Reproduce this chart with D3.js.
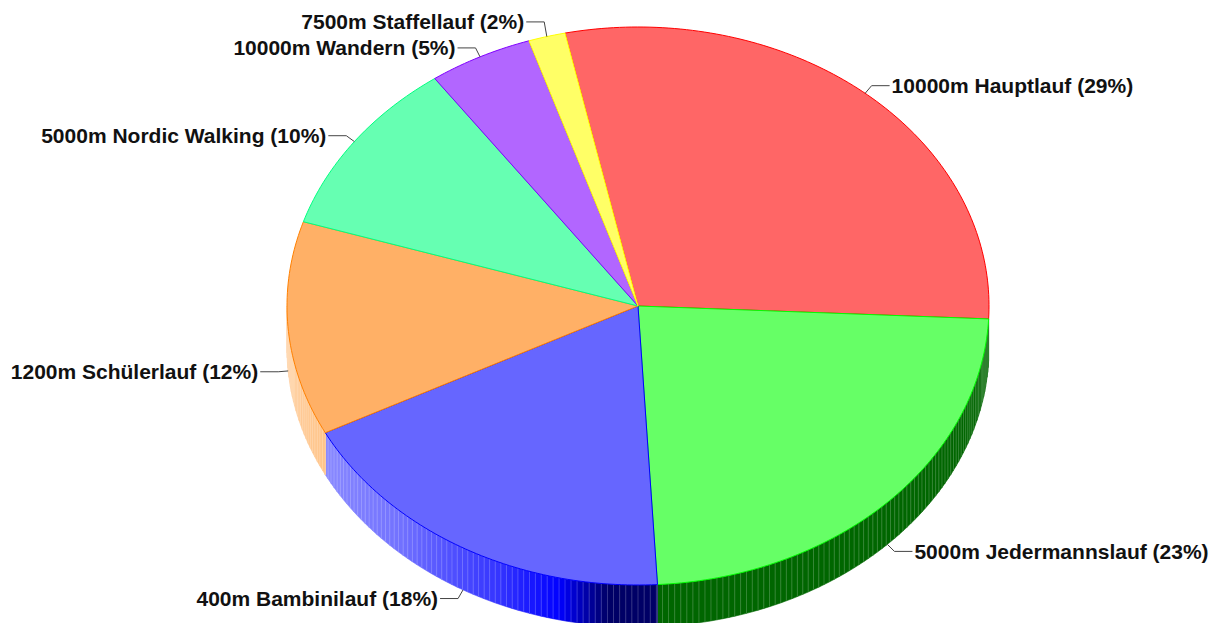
<!DOCTYPE html>
<html>
<head>
<meta charset="utf-8">
<script src="https://cdn.jsdelivr.net/npm/d3@7"></script>
<style>
  body { margin: 0; background: #fff; }
  .label { font-family: "Liberation Sans", Arial, sans-serif; font-weight: bold; font-size: 21px; fill: #111; }
</style>
</head>
<body>
<div id="chart"></div>
<script>
// chart data
const categories = ["10000m Hauptlauf", "5000m Jedermannslauf", "400m Bambinilauf",
  "1200m Schülerlauf", "5000m Nordic Walking", "10000m Wandern", "7500m Staffellauf"];
const values = [29.1, 23.4, 18.4, 12.4, 10.3, 4.8, 1.7];
const topColors = ["#ff6666", "#66ff66", "#6666ff", "#ffb066", "#66ffb2", "#b266ff", "#ffff66"];
const edgeColors = ["#ff0000", "#00ff00", "#0000ff", "#ff8000", "#00ff80", "#8000ff", "#ffff00"];

const width = 1213, height = 623;
const cx = 638, cy = 306, rx = 351, ry = 279, depth = 42;
const startDeg = -12;
const rad = Math.PI / 180;

const data = categories.map((c, i) => ({ name: c, value: values[i], i: i }));
const total = d3.sum(values);

const pie = d3.pie()
  .sort(null)
  .value(d => d.value)
  .startAngle(startDeg * rad)
  .endAngle((startDeg + 360) * rad);
const arcs = pie(data);

// point on the ellipse for angle a (clockwise from top)
function pt(a, dy) {
  return [cx + rx * Math.sin(a), cy - ry * Math.cos(a) + (dy || 0)];
}

// side shading: dark on the right front, lighter towards the left
const whiteMix = d3.scaleLinear()
  .domain([193, 203, 223, 245, 270])
  .range([0, 0.2, 0.45, 0.55, 0.65])
  .clamp(true);

function sideColor(base, deg) {
  const c = d3.rgb(base);
  const mul = k => d3.rgb(c.r * k, c.g * k, c.b * k).formatHex();
  if (deg < 185) return mul(0.4);
  if (deg < 193) return mul(0.4 + 0.6 * (deg - 185) / 8);
  return d3.interpolateRgb(c, "#ffffff")(whiteMix(deg));
}

const svg = d3.select("#chart").append("svg")
  .attr("width", width)
  .attr("height", height);

const line = d3.line();

// sides (front half only), drawn as 1 degree strips
const sides = svg.append("g");
arcs.forEach(a => {
  let s = a.startAngle / rad, e = a.endAngle / rad;
  // normalise into 0..360
  if (s < 0) { s += 360; e += 360; }
  const lo = Math.max(s, 90), hi = Math.min(e, 270);
  if (lo >= hi) return;
  for (let d = lo; d < hi; d = Math.floor(d) + 1) {
    const d2 = Math.min(Math.floor(d) + 1, hi);
    const col = sideColor(edgeColors[a.data.i], (d + d2) / 2);
    const p = [pt(d * rad), pt(d2 * rad), pt(d2 * rad, depth), pt(d * rad, depth)];
    sides.append("path")
      .attr("d", line(p) + "Z")
      .attr("fill", col)
      .attr("stroke", col)
      .attr("stroke-width", 0.6);
    // thin lighter stripe
    sides.append("path")
      .attr("d", line([pt(d * rad), pt(d * rad, depth)]))
      .attr("stroke", d3.interpolateRgb(col, "#ffffff")(0.35))
      .attr("stroke-width", 0.8)
      .attr("opacity", 0.7);
  }
});

// top faces
const tops = svg.append("g");
arcs.forEach(a => {
  const n = Math.max(4, Math.ceil((a.endAngle - a.startAngle) / rad));
  const pts = [[cx, cy]];
  for (let k = 0; k <= n; k++) {
    pts.push(pt(a.startAngle + (a.endAngle - a.startAngle) * k / n));
  }
  tops.append("path")
    .attr("d", line(pts) + "Z")
    .attr("fill", topColors[a.data.i])
    .attr("stroke", edgeColors[a.data.i])
    .attr("stroke-width", 1)
    .attr("stroke-linejoin", "round");
});

// labels with leader lines
const labels = arcs.map(a => {
  const m = (a.startAngle + a.endAngle) / 2;
  const s = Math.sin(m), c = Math.cos(m);
  const p = pt(m, c < 0 ? depth : 0);
  return {
    a: a, p: p, right: s >= 0,
    ex: p[0] + 10 * s, ey: p[1] - 10 * c,
    text: a.data.name + " (" + Math.round(a.data.value / total * 100) + "%)"
  };
});

// keep labels on each side apart
[true, false].forEach(side => {
  const grp = labels.filter(l => l.right === side).sort((u, v) => u.ey - v.ey);
  for (let k = grp.length - 2; k >= 0; k--) {
    if (grp[k].ey > grp[k + 1].ey - 26) grp[k].ey = grp[k + 1].ey - 26;
  }
});

const lab = svg.append("g");
labels.forEach(l => {
  const dir = l.right ? 1 : -1;
  const hx = l.ex + dir * 18;
  lab.append("path")
    .attr("d", line([l.p, [l.ex, l.ey], [hx, l.ey]]))
    .attr("fill", "none")
    .attr("stroke", "#444")
    .attr("stroke-width", 1);
  lab.append("text")
    .attr("class", "label")
    .attr("x", hx + dir * 2)
    .attr("y", l.ey)
    .attr("dy", "0.35em")
    .attr("text-anchor", l.right ? "start" : "end")
    .text(l.text);
});
</script>
</body>
</html>
